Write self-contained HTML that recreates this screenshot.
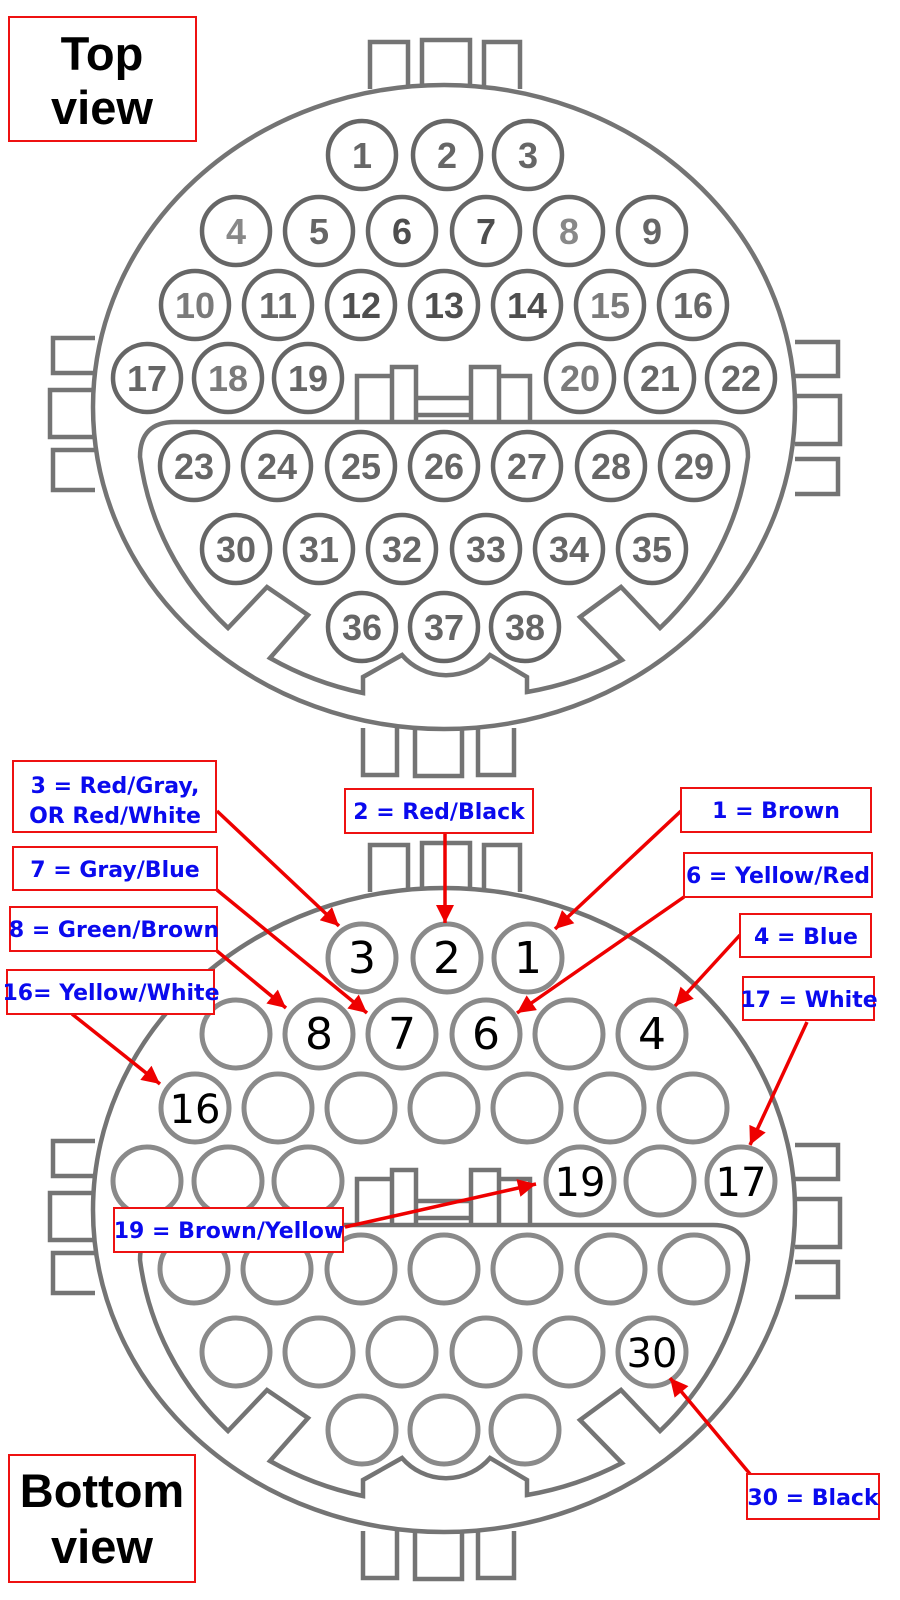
<!DOCTYPE html>
<html><head><meta charset="utf-8"><style>
html,body{margin:0;padding:0;background:#fff;}
svg{display:block;}
.lb{font-family:"DejaVu Sans","Liberation Sans",sans-serif;font-weight:bold;font-size:22px;fill:#0a0aee;}
.tn{font-family:"Liberation Sans",sans-serif;font-weight:bold;font-size:36px;fill:#666;text-anchor:middle;}
.bn{font-family:"DejaVu Sans","Liberation Sans",sans-serif;font-size:44px;fill:#000;text-anchor:middle;}
.big{font-family:"Liberation Sans",sans-serif;font-weight:bold;font-size:47px;fill:#000;text-anchor:middle;}
</style></head><body>
<svg width="900" height="1600" viewBox="0 0 900 1600" xmlns="http://www.w3.org/2000/svg">
<defs>
<marker id="ah" viewBox="0 0 10 10" refX="10" refY="5" markerWidth="22" markerHeight="18" orient="auto" markerUnits="userSpaceOnUse">
<path d="M0,0 L10,5 L0,10 z" fill="#ee0000"/>
</marker>
<g id="conn" fill="none" stroke="#747474" stroke-width="4.5">
  <path d="M370 89 V42 H408 V89 M422 89 V40 H470 V89 M484 89 V42 H520 V89"/>
  <path d="M363 728 V775 H397 V728 M415 730 V776 H462 V730 M478 728 V775 H514 V728"/>
  <path d="M95 338 H53 V373 H95 M95 390 H50 V437 H95 M95 450 H53 V490 H95"/>
  <path d="M795 342 H838 V376 H795 M795 396 H840 V444 H795 M795 459 H838 V494 H795"/>
  <ellipse cx="444" cy="407" rx="351" ry="322" fill="#fff"/>
  <path d="M175 422 H713 Q748 422 748 457 A310 293 0 0 1 660 628 L621 587 L580 617 L622 660 A310 293 0 0 1 527 692 L527 677 L490 655 A58 58 0 0 1 402 655 L363 677 L363 693 A310 293 0 0 1 270 658 L308 615 L267 587 L228 628 A310 293 0 0 1 140 457 Q140 422 175 422 Z"/>
  <path d="M357 422 V376 H392 V367 H416 V422 M416 398 H471 V415 H416 M471 422 V367 H499 V376 H530 V422 M392 376 V422 M499 376 V422"/>
</g>
<g id="pins" fill="none">
  <circle cx="362" cy="155" r="34"/><circle cx="447" cy="155" r="34"/><circle cx="528" cy="155" r="34"/>
  <circle cx="236" cy="231" r="34"/><circle cx="319" cy="231" r="34"/><circle cx="402" cy="231" r="34"/><circle cx="486" cy="231" r="34"/><circle cx="569" cy="231" r="34"/><circle cx="652" cy="231" r="34"/>
  <circle cx="195" cy="305" r="34"/><circle cx="278" cy="305" r="34"/><circle cx="361" cy="305" r="34"/><circle cx="444" cy="305" r="34"/><circle cx="527" cy="305" r="34"/><circle cx="610" cy="305" r="34"/><circle cx="693" cy="305" r="34"/>
  <circle cx="147" cy="378" r="34"/><circle cx="228" cy="378" r="34"/><circle cx="308" cy="378" r="34"/><circle cx="580" cy="378" r="34"/><circle cx="660" cy="378" r="34"/><circle cx="741" cy="378" r="34"/>
  <circle cx="194" cy="466" r="34"/><circle cx="277" cy="466" r="34"/><circle cx="361" cy="466" r="34"/><circle cx="444" cy="466" r="34"/><circle cx="527" cy="466" r="34"/><circle cx="611" cy="466" r="34"/><circle cx="694" cy="466" r="34"/>
  <circle cx="236" cy="549" r="34"/><circle cx="319" cy="549" r="34"/><circle cx="402" cy="549" r="34"/><circle cx="486" cy="549" r="34"/><circle cx="569" cy="549" r="34"/><circle cx="652" cy="549" r="34"/>
  <circle cx="362" cy="627" r="34"/><circle cx="444" cy="627" r="34"/><circle cx="525" cy="627" r="34"/>
</g>
</defs>

<use href="#conn"/>
<use href="#pins" stroke="#666" stroke-width="4.5"/>
<g class="tn">
<text x="362" y="168">1</text><text x="447" y="168">2</text><text x="528" y="168">3</text>
<text x="236" y="244" fill="#888">4</text><text x="319" y="244">5</text><text x="402" y="244" fill="#4e4e4e">6</text><text x="486" y="244" fill="#4e4e4e">7</text><text x="569" y="244" fill="#888">8</text><text x="652" y="244">9</text>
<text x="195" y="318" fill="#7a7a7a">10</text><text x="278" y="318">11</text><text x="361" y="318" fill="#4e4e4e">12</text><text x="444" y="318" fill="#4e4e4e">13</text><text x="527" y="318" fill="#4e4e4e">14</text><text x="610" y="318" fill="#7a7a7a">15</text><text x="693" y="318">16</text>
<text x="147" y="391">17</text><text x="228" y="391" fill="#7a7a7a">18</text><text x="308" y="391">19</text><text x="580" y="391" fill="#7a7a7a">20</text><text x="660" y="391">21</text><text x="741" y="391">22</text>
<text x="194" y="479">23</text><text x="277" y="479">24</text><text x="361" y="479">25</text><text x="444" y="479">26</text><text x="527" y="479">27</text><text x="611" y="479">28</text><text x="694" y="479">29</text>
<text x="236" y="562">30</text><text x="319" y="562">31</text><text x="402" y="562">32</text><text x="486" y="562">33</text><text x="569" y="562">34</text><text x="652" y="562">35</text>
<text x="362" y="640">36</text><text x="444" y="640">37</text><text x="525" y="640">38</text>
</g>

<g transform="translate(0,803)">
<use href="#conn"/>
<use href="#pins" stroke="#8a8a8a" stroke-width="5"/>
</g>
<g class="bn">
<text x="362" y="973">3</text><text x="447" y="973">2</text><text x="528" y="973">1</text>
<text x="319" y="1049">8</text><text x="402" y="1049">7</text><text x="486" y="1049">6</text><text x="652" y="1049">4</text>
<text x="195" y="1123" font-size="40">16</text>
<text x="580" y="1196" font-size="40">19</text><text x="741" y="1196" font-size="40">17</text>
<text x="652" y="1367" font-size="40">30</text>
</g>

<rect x="9" y="17" width="187" height="124" fill="#fff" stroke="#ee1111" stroke-width="2"/>
<text class="big" x="102" y="70">Top</text>
<text class="big" x="102" y="124">view</text>
<rect x="9" y="1455" width="186" height="127" fill="#fff" stroke="#ee1111" stroke-width="2"/>
<text class="big" x="102" y="1507">Bottom</text>
<text class="big" x="102" y="1563">view</text>

<g stroke="#ee0000" stroke-width="3.5" marker-end="url(#ah)">
<line x1="217" y1="811" x2="339" y2="926"/>
<line x1="445" y1="833" x2="445" y2="923"/>
<line x1="681" y1="811" x2="555" y2="929"/>
<line x1="217" y1="890" x2="367" y2="1013"/>
<line x1="684" y1="897" x2="517" y2="1013"/>
<line x1="217" y1="951" x2="286" y2="1008"/>
<line x1="740" y1="935" x2="675" y2="1006"/>
<line x1="72" y1="1014" x2="160" y2="1084"/>
<line x1="807" y1="1022" x2="750" y2="1145"/>
<line x1="345" y1="1227" x2="536" y2="1184"/>
<line x1="750" y1="1474" x2="670" y2="1378"/>
</g>

<g fill="#fff" stroke="#ee1111" stroke-width="2">
<rect x="13" y="761" width="203" height="71"/>
<rect x="345" y="789" width="188" height="44"/>
<rect x="681" y="788" width="190" height="44"/>
<rect x="13" y="847" width="204" height="43"/>
<rect x="684" y="853" width="188" height="44"/>
<rect x="10" y="907" width="207" height="44"/>
<rect x="740" y="914" width="131" height="43"/>
<rect x="7" y="970" width="207" height="44"/>
<rect x="743" y="977" width="131" height="43"/>
<rect x="114" y="1208" width="229" height="44"/>
<rect x="747" y="1474" width="132" height="45"/>
</g>
<g class="lb" text-anchor="middle">
<text x="115" y="793">3 = Red/Gray,</text>
<text x="115" y="823">OR Red/White</text>
<text x="439" y="819">2 = Red/Black</text>
<text x="776" y="818">1 = Brown</text>
<text x="115" y="877">7 = Gray/Blue</text>
<text x="778" y="883">6 = Yellow/Red</text>
<text x="114" y="937">8 = Green/Brown</text>
<text x="806" y="944">4 = Blue</text>
<text x="111" y="1000">16= Yellow/White</text>
<text x="809" y="1007">17 = White</text>
<text x="229" y="1238">19 = Brown/Yellow</text>
<text x="813" y="1505">30 = Black</text>
</g>
</svg>
</body></html>
